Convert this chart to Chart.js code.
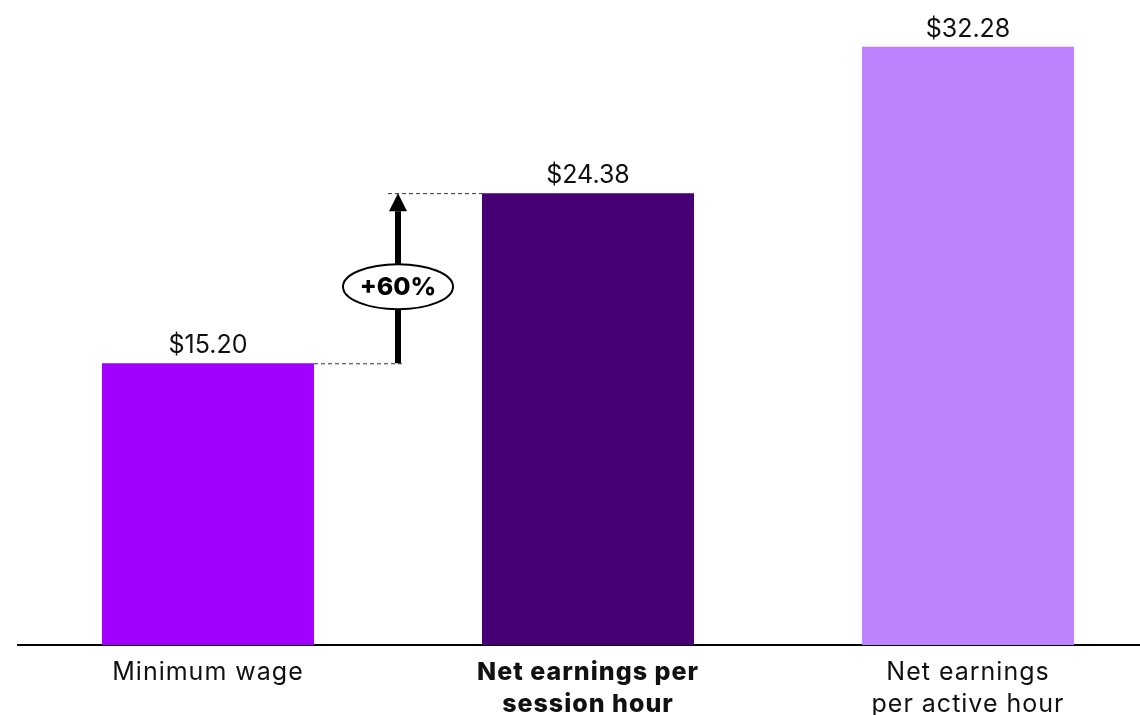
<!DOCTYPE html>
<html>
<head>
<meta charset="utf-8">
<title>Hourly earnings</title>
<script src="https://cdn.jsdelivr.net/npm/chart.js@4.4.1/dist/chart.umd.min.js"></script>
<style>
  html, body { margin: 0; padding: 0; background: #fff; overflow: hidden; }
  #wrap { width: 1160px; height: 731px; }
</style>
</head>
<body>
<div id="wrap"><canvas id="earningsChart" width="1160" height="731"></canvas></div>
<script>
const categories = ['Minimum wage', ['Net earnings per', 'session hour'], ['Net earnings', 'per active hour']];
const hourlyValues = [15.20, 24.38, 32.28];
const barColors = ['#A100FF', '#460073', '#BE82FF'];
const highlightIndex = 1;

const FONT = 'Inter, "Noto Sans", Arial, sans-serif';

// slightly wider tracking for the category labels
const tracking = {
    id: 'tracking',
    beforeDraw(chart) { chart.ctx.letterSpacing = '1px'; },
    afterDraw(chart) { chart.ctx.letterSpacing = '0px'; }
};

// dollar labels above each bar
const valueLabels = {
    id: 'valueLabels',
    afterDatasetsDraw(chart) {
        const ctx = chart.ctx;
        const meta = chart.getDatasetMeta(0);
        ctx.save();
        ctx.letterSpacing = '0px';
        ctx.font = '25px ' + FONT;
        ctx.fillStyle = '#111';
        ctx.textAlign = 'center';
        ctx.textBaseline = 'alphabetic';
        meta.data.forEach(function(bar, i) {
            ctx.fillText('$' + hourlyValues[i].toFixed(2), bar.x, bar.y - 10);
        });
        ctx.restore();
    }
};

// arrow + percentage badge between the first two bars
const growthArrow = {
    id: 'growthArrow',
    afterDatasetsDraw(chart) {
        const ctx = chart.ctx;
        const meta = chart.getDatasetMeta(0);
        const a = meta.data[0], b = meta.data[1];
        const aRight = a.x + a.width / 2;
        const bLeft = b.x - b.width / 2;
        const x = (aRight + bLeft) / 2;
        const yLow = a.y, yHigh = b.y;

        ctx.save();
        ctx.letterSpacing = '0px';
        // dashed guides
        ctx.strokeStyle = '#333';
        ctx.lineWidth = 1;
        ctx.setLineDash([4, 3]);
        ctx.beginPath();
        ctx.moveTo(aRight, yLow + 0.5);
        ctx.lineTo(x + 5, yLow + 0.5);
        ctx.moveTo(x - 10, yHigh + 0.5);
        ctx.lineTo(bLeft, yHigh + 0.5);
        ctx.stroke();
        ctx.setLineDash([]);

        // shaft
        const headH = 18, headW = 18;
        ctx.strokeStyle = '#000';
        ctx.lineWidth = 6;
        ctx.beginPath();
        ctx.moveTo(x, yLow);
        ctx.lineTo(x, yHigh + headH);
        ctx.stroke();

        // head
        ctx.fillStyle = '#000';
        ctx.beginPath();
        ctx.moveTo(x, yHigh);
        ctx.lineTo(x - headW / 2, yHigh + headH);
        ctx.lineTo(x + headW / 2, yHigh + headH);
        ctx.closePath();
        ctx.fill();

        // badge
        const cy = yHigh + (yLow - yHigh) * 0.55;
        ctx.beginPath();
        ctx.ellipse(x, cy, 55, 22.5, 0, 0, Math.PI * 2);
        ctx.fillStyle = '#fff';
        ctx.fill();
        ctx.lineWidth = 2;
        ctx.strokeStyle = '#000';
        ctx.stroke();

        const pct = Math.round((hourlyValues[1] / hourlyValues[0] - 1) * 100);
        ctx.fillStyle = '#000';
        ctx.font = '800 25px ' + FONT;
        ctx.textAlign = 'center';
        ctx.textBaseline = 'middle';
        ctx.fillText('+' + pct + '%', x, cy + 1);
        ctx.restore();
    }
};

const ctx = document.getElementById('earningsChart').getContext('2d');
const earningsChart = new Chart(ctx, {
    type: 'bar',
    data: {
        labels: categories,
        datasets: [{
            data: hourlyValues,
            backgroundColor: barColors,
            borderWidth: 0,
            categoryPercentage: 1,
            barPercentage: 0.558
        }]
    },
    options: {
        responsive: false,
        animation: false,
        devicePixelRatio: 1,
        layout: { padding: { left: 18, right: 2, top: 0, bottom: 0 } },
        plugins: {
            legend: { display: false },
            tooltip: { enabled: false }
        },
        scales: {
            x: {
                grid: { display: false, drawTicks: false },
                border: { display: true, color: '#000', width: 2 },
                ticks: {
                    color: '#111',
                    padding: 11,
                    maxRotation: 0,
                    autoSkip: false,
                    font: function(c) {
                        return {
                            family: FONT,
                            size: 25,
                            lineHeight: '32px',
                            weight: c.index === highlightIndex ? '800' : 'normal'
                        };
                    }
                }
            },
            y: {
                display: false,
                min: 0,
                max: 34.8
            }
        }
    },
    plugins: [tracking, valueLabels, growthArrow]
});
</script>
</body>
</html>
